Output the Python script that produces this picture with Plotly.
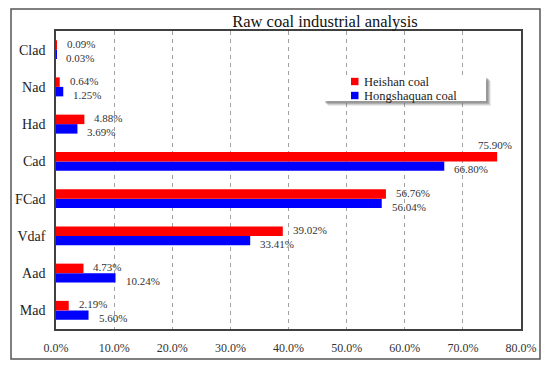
import plotly.graph_objects as go

categories = ["Mad", "Aad", "Vdaf", "FCad", "Cad", "Had", "Nad", "Clad"]
heishan = [2.19, 4.73, 39.02, 56.76, 75.90, 4.88, 0.64, 0.09]
hongshaquan = [5.60, 10.24, 33.41, 56.04, 66.80, 3.69, 1.25, 0.03]
series_names = ["Heishan coal", "Hongshaquan coal"]
series_colors = ["#FF0000", "#0000FF"]
x_ticks = [0, 10, 20, 30, 40, 50, 60, 70, 80]
x_tick_labels = ["%.1f%%" % v for v in x_ticks]

FONT = "Liberation Serif, Times New Roman, serif"
W, H = 550, 367
ML, MR, MT, MB = 56, 29, 31, 38
PW, PH = W - ML - MR, H - MT - MB

fig = go.Figure()
# Hongshaquan first so it sits below Heishan within each category
fig.add_trace(go.Bar(y=categories, x=hongshaquan, orientation="h", name=series_names[1],
                     marker=dict(color=series_colors[1], line=dict(width=0)), showlegend=False))
fig.add_trace(go.Bar(y=categories, x=heishan, orientation="h", name=series_names[0],
                     marker=dict(color=series_colors[0], line=dict(width=0)), showlegend=False))

LBL = dict(family=FONT, size=11, color="#333333")
annotations = []
for c, v in zip(categories, heishan):
    if v > 70:
        annotations.append(dict(x=v, y=c, xref="x", yref="y", text="%.2f%%" % v, showarrow=False,
                                xanchor="center", xshift=-2, yshift=16, font=LBL))
    else:
        annotations.append(dict(x=v, y=c, xref="x", yref="y", text="%.2f%%" % v, showarrow=False,
                                xanchor="left", xshift=8, yshift=6, font=LBL))
for c, v in zip(categories, hongshaquan):
    annotations.append(dict(x=v, y=c, xref="x", yref="y", text="%.2f%%" % v, showarrow=False,
                            xanchor="left", xshift=8, yshift=-8, font=LBL))

def px_x(p):
    return (p - ML) / PW

def px_y(p):
    return (H - MB - p) / PH

shapes = [
    # outer frame
    dict(type="rect", xref="paper", yref="paper", x0=px_x(11), x1=px_x(540), y0=px_y(359), y1=px_y(9),
         line=dict(color="#555555", width=1.5), layer="below"),
]
# legend: soft shadow, white box, swatches
for off, a in [(5, 0.12), (4, 0.2), (3, 0.3), (2, 0.3)]:
    shapes.append(dict(type="rect", xref="paper", yref="paper",
                       x0=px_x(323 + off), x1=px_x(486 + off), y0=px_y(101 + off), y1=px_y(76 + off),
                       line=dict(width=0), fillcolor="rgba(100,100,100,%.2f)" % a, layer="above"))
shapes.append(dict(type="rect", xref="paper", yref="paper", x0=px_x(323), x1=px_x(486),
                   y0=px_y(101), y1=px_y(76), line=dict(width=0), fillcolor="white", layer="above"))
legend_rows_y = [81.5, 95.5]
for name, col, ry in zip(series_names, series_colors, legend_rows_y):
    shapes.append(dict(type="rect", xref="paper", yref="paper", x0=px_x(351), x1=px_x(358.5),
                       y0=px_y(ry + 3.7), y1=px_y(ry - 3.7), line=dict(width=0), fillcolor=col,
                       layer="above"))
    annotations.append(dict(x=px_x(362), y=px_y(ry), xref="paper", yref="paper", text=name,
                            showarrow=False, xanchor="left", yanchor="middle",
                            font=dict(family=FONT, size=12.5, color="#222222")))

fig.update_layout(
    width=W, height=H,
    margin=dict(l=ML, r=MR, t=MT, b=MB),
    paper_bgcolor="white", plot_bgcolor="white",
    barmode="group", bargap=0.49, bargroupgap=0,
    title=dict(text="Raw coal industrial analysis", x=325 / W, xanchor="center",
               y=1 - 21 / H, yanchor="middle", font=dict(family=FONT, size=16.5, color="#111111")),
    xaxis=dict(range=[0, 80], tickvals=x_ticks, ticktext=x_tick_labels,
               showgrid=True, gridcolor="#a0a0a0", griddash="4px,4px", gridwidth=1,
               showline=True, linecolor="#404040", linewidth=1.5, mirror=True,
               ticks="", ticklabelstandoff=7, zeroline=False,
               tickfont=dict(family=FONT, size=12, color="#333333"), fixedrange=True),
    yaxis=dict(showgrid=False, showline=True, linecolor="#404040", linewidth=1.5, mirror=True,
               ticks="", ticklabelstandoff=6, zeroline=False,
               tickfont=dict(family=FONT, size=14, color="#222222"), fixedrange=True),
    annotations=annotations,
    shapes=shapes,
    showlegend=False,
)

fig.write_html("out.html", config={"displayModeBar": False},
               post_script="document.body.style.margin='0px';document.body.style.padding='0px';")
